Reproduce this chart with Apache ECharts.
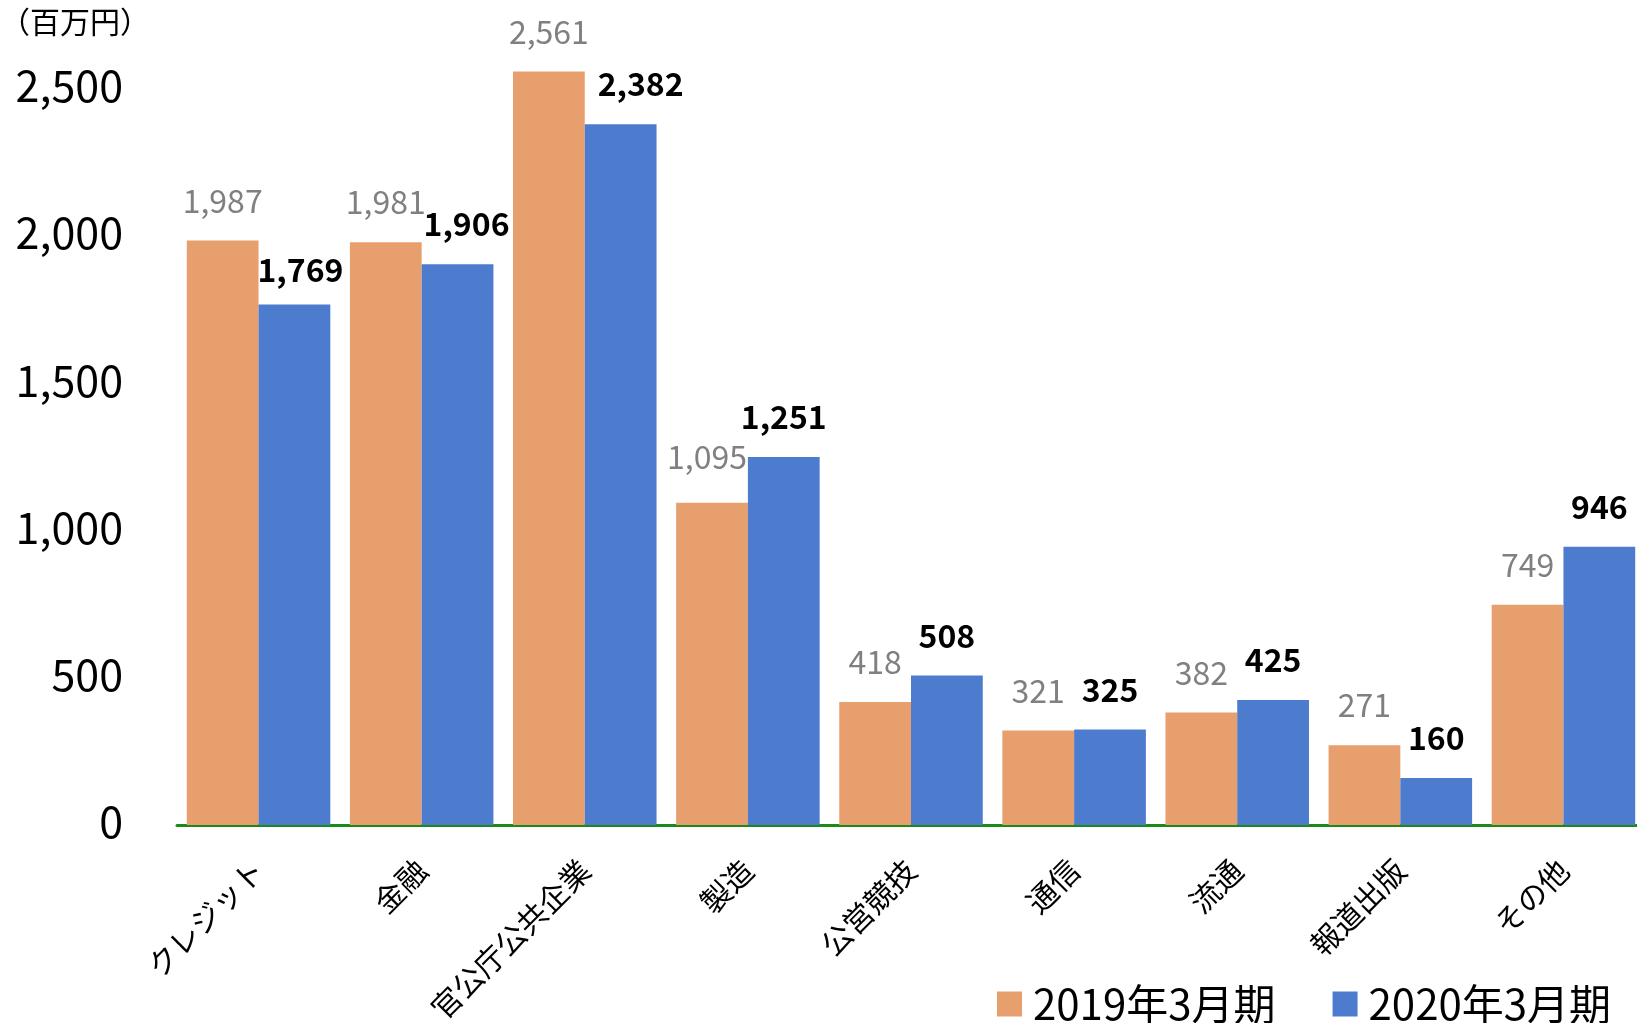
<!DOCTYPE html>
<html>
<head>
<meta charset="utf-8">
<script src="https://cdn.jsdelivr.net/npm/echarts@6.0.0/dist/echarts.min.js"></script>
<style>
  html, body { margin: 0; padding: 0; background: #fff; }
  #main { width: 1637px; height: 1023px; }
</style>
</head>
<body>
<div id="main"></div>
<script>
// 業種別 売上 (百万円)
var categories = ['クレジット', '金融', '官公庁公共企業', '製造', '公営競技', '通信', '流通', '報道出版', 'その他'];
var fy2019 = [1987, 1981, 2561, 1095, 418, 321, 382, 271, 749];
var fy2020 = [1769, 1906, 2382, 1251, 508, 325, 425, 160, 946];
var seriesNames = ['2019年3月期', '2020年3月期'];

var FONT = '"Noto Sans CJK JP", "Noto Sans", sans-serif';

// labels nudged a bit where they would collide (like the original)
var shift2019 = {3: [-5, -6]};
var shift2020 = {0: [6, 5], 1: [9, 0], 2: [20, 0]};

function withOffsets(vals, shifts) {
    return vals.map(function (v, i) {
        if (!shifts[i]) return v;
        return {value: v, label: {offset: shifts[i]}};
    });
}

function fmt(p) { return p.value.toLocaleString('en-US'); }

var chart = echarts.init(document.getElementById('main'));
var option = {
    animation: false,
    textStyle: {fontFamily: FONT},
    grid: {
        left: 177,
        width: 1468,
        top: 16,
        bottom: 198,
        containLabel: false,
        outerBoundsMode: 'none'
    },
    graphic: [{
        type: 'text',
        left: 0,
        top: 7,
        style: {
            text: '（百万円）',
            font: '30px ' + FONT,
            fill: '#000'
        }
    }],
    legend: {
        data: seriesNames,
        left: 992,
        top: 978,
        itemWidth: 25,
        itemHeight: 25,
        itemGap: 57,
        icon: 'rect',
        textStyle: {
            fontSize: 42,
            color: '#000',
            fontFamily: FONT,
            padding: [0, 0, 0, 6]
        }
    },
    xAxis: {
        type: 'category',
        data: categories,
        axisTick: {show: false},
        axisLine: {lineStyle: {color: '#1a8a1a', width: 3}},
        axisLabel: {
            rotate: 45,
            interval: 0,
            margin: 40,
            fontSize: 30,
            color: '#000',
            fontFamily: FONT
        }
    },
    yAxis: {
        type: 'value',
        min: 0,
        max: 2750,
        interval: 500,
        axisLine: {show: false},
        axisTick: {show: false},
        splitLine: {show: false},
        axisLabel: {
            color: '#000',
            margin: 54,
            showMaxLabel: false,
            formatter: function (v) { return '{t|' + v.toLocaleString('en-US') + '}'; },
            rich: {
                t: {
                    fontSize: 43,
                    fontFamily: FONT,
                    color: '#000',
                    padding: [0, 0, 7, 0]
                }
            }
        }
    },
    series: [{
        name: seriesNames[0],
        type: 'bar',
        data: withOffsets(fy2019, shift2019),
        barGap: '0%',
        barCategoryGap: '12%',
        itemStyle: {color: '#e89f6e'},
        label: {
            show: true,
            position: 'top',
            distance: 24,
            fontSize: 32,
            lineHeight: 32,
            color: '#808080',
            fontFamily: FONT,
            formatter: fmt
        }
    }, {
        name: seriesNames[1],
        type: 'bar',
        data: withOffsets(fy2020, shift2020),
        itemStyle: {color: '#4d7ccf'},
        label: {
            show: true,
            position: 'top',
            distance: 24,
            fontSize: 32,
            lineHeight: 32,
            fontWeight: 'bold',
            color: '#000',
            fontFamily: FONT,
            formatter: fmt
        }
    }]
};
chart.setOption(option, true);
</script>
</body>
</html>
